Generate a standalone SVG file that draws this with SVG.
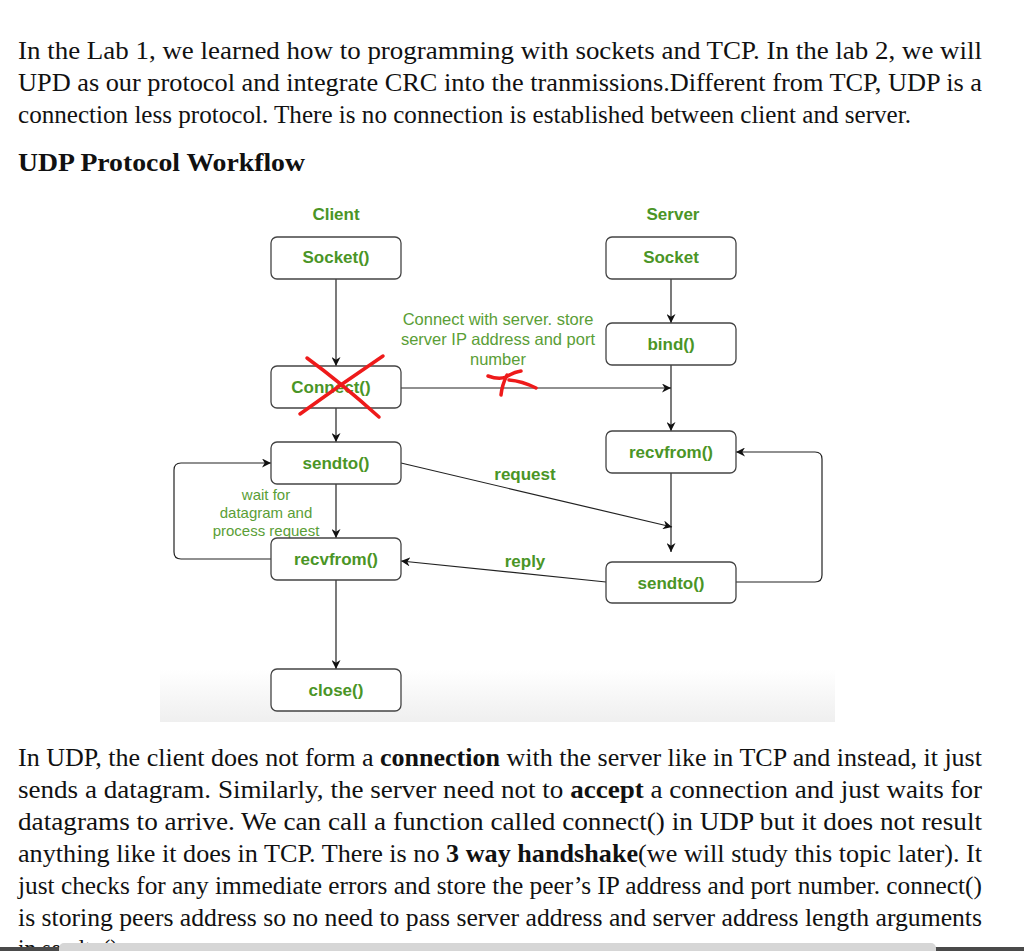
<svg xmlns="http://www.w3.org/2000/svg" width="1024" height="951" viewBox="0 0 1024 951">
<defs>
<linearGradient id="bg" x1="0" y1="195" x2="0" y2="722" gradientUnits="userSpaceOnUse">
<stop offset="0" stop-color="#ffffff"/>
<stop offset="0.9" stop-color="#ffffff"/>
<stop offset="1" stop-color="#efefef"/>
</linearGradient>
<marker id="ah" viewBox="0 0 10 10" refX="10" refY="5" markerWidth="9" markerHeight="9" markerUnits="userSpaceOnUse" orient="auto">
<path d="M0,0 L10,5 L0,10 L3,5 z" fill="#111"/>
</marker>
<style>
.body{font-family:"Liberation Serif","Times New Roman",serif;font-size:25px;fill:#111}
.head{font-family:"Liberation Serif","Times New Roman",serif;font-size:26px;font-weight:bold;fill:#111}
.b{font-weight:bold}
.box{fill:#fff;stroke:#444;stroke-width:1.3}
.lbl{font-family:"Liberation Sans",Arial,sans-serif;font-size:17px;font-weight:bold;fill:#4a9526}
.thin{font-family:"Liberation Sans",Arial,sans-serif;font-size:16.5px;fill:#5a9e36}
.con{fill:none;stroke:#222;stroke-width:1.2}
.red{fill:none;stroke:#ee1a1a;stroke-width:3.5;stroke-linecap:round}
</style>
</defs>
<rect width="1024" height="951" fill="#fff"/>

<g id="intro">
<text class="body" x="18" y="59" textLength="964" lengthAdjust="spacingAndGlyphs">In the Lab 1, we learned how to programming with sockets and TCP. In the lab 2, we will</text>
<text class="body" x="18" y="91" textLength="964" lengthAdjust="spacingAndGlyphs">UPD as our protocol and integrate CRC into the tranmissions.Different from TCP, UDP is a</text>
<text class="body" x="18" y="123" textLength="893" lengthAdjust="spacingAndGlyphs">connection less protocol. There is no connection is established between client and server.</text>
<text class="head" x="18" y="171" textLength="287" lengthAdjust="spacingAndGlyphs">UDP Protocol Workflow</text>
</g>

<rect x="160" y="195" width="675" height="527" fill="url(#bg)"/>

<g id="connectors">
<line class="con" x1="336" y1="279" x2="336" y2="366" marker-end="url(#ah)"/>
<line class="con" x1="336" y1="408" x2="336" y2="442" marker-end="url(#ah)"/>
<line class="con" x1="336" y1="484" x2="336" y2="538" marker-end="url(#ah)"/>
<line class="con" x1="336" y1="580" x2="336" y2="669" marker-end="url(#ah)"/>
<line class="con" x1="671" y1="279" x2="671" y2="323" marker-end="url(#ah)"/>
<line class="con" x1="671" y1="365" x2="671" y2="431" marker-end="url(#ah)"/>
<line class="con" x1="671" y1="473" x2="671" y2="552" marker-end="url(#ah)"/>
<line class="con" x1="401" y1="388" x2="671" y2="388" marker-end="url(#ah)"/>
<line class="con" x1="401" y1="463" x2="672" y2="527" marker-end="url(#ah)"/>
<line class="con" x1="606" y1="582" x2="401" y2="561" marker-end="url(#ah)"/>
<path class="con" d="M271 559 L181 559 Q174 559 174 552 L174 470 Q174 463 181 463 L271 463" marker-end="url(#ah)"/>
<path class="con" d="M736 582 L815 582 Q822 582 822 575 L822 459 Q822 452 815 452 L736 452" marker-end="url(#ah)"/>
</g>

<g id="labels">
<text class="lbl" x="336" y="220" text-anchor="middle">Client</text>
<text class="lbl" x="673" y="220" text-anchor="middle">Server</text>
<text class="thin" x="498" y="325" text-anchor="middle">Connect with server. store</text>
<text class="thin" x="498" y="345" text-anchor="middle">server IP address and port</text>
<text class="thin" x="498" y="365" text-anchor="middle">number</text>
<text class="lbl" x="525" y="480" text-anchor="middle">request</text>
<text class="lbl" x="525" y="567" text-anchor="middle">reply</text>
<text class="thin" x="266" y="500" text-anchor="middle" style="font-size:15px">wait for</text>
<text class="thin" x="266" y="518" text-anchor="middle" style="font-size:15px">datagram and</text>
<text class="thin" x="266" y="536" text-anchor="middle" style="font-size:15px">process request</text>
</g>

<g id="client-socket"><rect class="box" x="271" y="237" width="130" height="42" rx="6"/><text class="lbl" x="336" y="263" text-anchor="middle">Socket()</text></g>
<g id="server-socket"><rect class="box" x="606" y="237" width="130" height="42" rx="6"/><text class="lbl" x="671" y="263" text-anchor="middle">Socket</text></g>
<g id="server-bind"><rect class="box" x="606" y="323" width="130" height="42" rx="6"/><text class="lbl" x="671" y="350" text-anchor="middle">bind()</text></g>
<g id="client-connect"><rect class="box" x="271" y="366" width="130" height="42" rx="6"/><text class="lbl" x="331" y="393" text-anchor="middle">Connect()</text></g>
<g id="client-sendto"><rect class="box" x="271" y="442" width="130" height="42" rx="6"/><text class="lbl" x="336" y="469" text-anchor="middle">sendto()</text></g>
<g id="server-recvfrom"><rect class="box" x="606" y="431" width="130" height="42" rx="6"/><text class="lbl" x="671" y="458" text-anchor="middle">recvfrom()</text></g>
<g id="client-recvfrom"><rect class="box" x="271" y="538" width="130" height="42" rx="6"/><text class="lbl" x="336" y="565" text-anchor="middle">recvfrom()</text></g>
<g id="server-sendto"><rect class="box" x="606" y="562" width="130" height="41" rx="6"/><text class="lbl" x="671" y="589" text-anchor="middle">sendto()</text></g>
<g id="client-close"><rect class="box" x="271" y="669" width="130" height="42" rx="6"/><text class="lbl" x="336" y="696" text-anchor="middle">close()</text></g>

<g id="red-marks">
<path class="red" d="M307 358 Q340 382 379 417"/>
<path class="red" d="M383 356 Q340 385 300 414"/>
<path class="red" d="M488 376 Q499 380 506 377 Q514 372 521 371"/>
<path class="red" d="M507 375 Q502 385 501 395"/>
<path class="red" d="M509 380 Q522 381 536 388"/>
</g>

<g id="outro">
<text class="body" x="18" y="766" textLength="964" lengthAdjust="spacingAndGlyphs">In UDP, the client does not form a <tspan class="b">connection</tspan> with the server like in TCP and instead, it just</text>
<text class="body" x="18" y="798" textLength="964" lengthAdjust="spacingAndGlyphs">sends a datagram.  Similarly, the server need not to <tspan class="b">accept</tspan> a connection and just waits for</text>
<text class="body" x="18" y="830" textLength="964" lengthAdjust="spacingAndGlyphs">datagrams to arrive.  We can call a function called connect() in UDP but it does not result</text>
<text class="body" x="18" y="862" textLength="964" lengthAdjust="spacingAndGlyphs">anything like it does in TCP. There is no <tspan class="b">3 way handshake</tspan>(we will study this topic later).  It</text>
<text class="body" x="18" y="894" textLength="964" lengthAdjust="spacingAndGlyphs">just checks for any immediate errors and store the peer’s IP address and port number. connect()</text>
<text class="body" x="18" y="926" textLength="964" lengthAdjust="spacingAndGlyphs">is storing peers address so no need to pass server address and server address length arguments</text>
<text class="body" x="18" y="957" textLength="100" lengthAdjust="spacingAndGlyphs">in sendto()</text>
</g>

<rect x="0" y="947" width="1024" height="4" fill="#4a4a4a"/>
<rect x="59" y="943" width="877" height="12" rx="5" fill="#d6d6d6"/>
</svg>
